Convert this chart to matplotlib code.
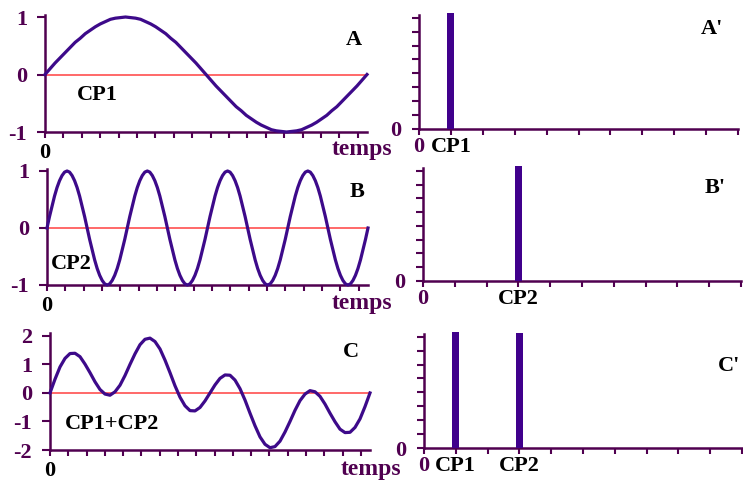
import numpy as np
import matplotlib
matplotlib.use("Agg")
from matplotlib import pyplot as plt

W, H = 743, 482
plt.rcParams['font.family'] = ['Liberation Serif', 'DejaVu Serif']
plt.rcParams['font.weight'] = 'bold'

axis_col = '#500050'
curve_col = '#3d0a8a'
bar_col = '#40008c'
zero_col = '#ff4040'

cp1 = [0, .10, .20, .29, .38, .47, .56, .63, .71, .77, .83, .88, .92, .96, .98, .99, 1.00,
       .99, .98, .96, .92, .88, .83, .77, .71, .63, .56, .47, .38, .29, .20, .10, 0,
       -.10, -.20, -.29, -.38, -.47, -.56, -.63, -.71, -.77, -.83, -.88, -.92, -.96, -.98, -.99, -1.00,
       -.99, -.98, -.96, -.92, -.88, -.83, -.77, -.71, -.63, -.56, -.47, -.38, -.29, -.20, -.10, 0]
cp2_period = [0, .20, .38, .56, .71, .83, .92, .98, 1, .98, .92, .83, .71, .56, .38, .20,
              0, -.20, -.38, -.56, -.71, -.83, -.92, -.98, -1, -.98, -.92, -.83, -.71, -.56, -.38, -.20]
cp2 = cp2_period * 4 + [0]
cp12 = [0, .48, .91, 1.21, 1.38, 1.39, 1.27, 1.01, .71, .39, .12, -.04, -.08, .04, .27, .61, 1.00,
        1.37, 1.69, 1.88, 1.92, 1.80, 1.54, 1.15, .71, .25, -.15, -.45, -.62, -.63, -.51, -.28, 0,
        .28, .51, .63, .62, .45, .15, -.25, -.71, -1.15, -1.54, -1.80, -1.92, -1.88, -1.69, -1.37, -1.00,
        -.61, -.27, -.04, .08, .04, -.12, -.39, -.71, -1.01, -1.27, -1.39, -1.38, -1.21, -.91, -.48, 0]

# spectra: component position / amplitude
spec_A = ([1], [8.35])
spec_B = ([3], [8.35])
spec_C = ([1, 3], [8.35, 8.3])
spec_labels_A = {0: '0', 1: 'CP1'}
spec_labels_B = {0: '0', 3: 'CP2'}
spec_labels_C = {0: '0', 1: 'CP1', 3: 'CP2'}

FS = 16
fig = plt.figure(figsize=(W / 100, H / 100), dpi=100)


def ax_px(x0, y0, x1, y1):
    return fig.add_axes([x0 / W, 1 - y1 / H, (x1 - x0) / W, (y1 - y0) / H])


def ftext(x, y, s, color='black', size=FS):
    fig.text(x / W, 1 - y / H, s, ha='center', va='center', color=color,
             fontsize=size, fontweight='bold')


def style(ax):
    for s in ['top', 'right']:
        ax.spines[s].set_visible(False)
    for s in ['left', 'bottom']:
        ax.spines[s].set_color(axis_col)
        ax.spines[s].set_linewidth(1.8)
    ax.tick_params(colors=axis_col, width=1.5, length=4, labelsize=FS)


def signal(ax, y, ylo, yhi, yticks):
    style(ax)
    t = np.linspace(0, 17.5, len(y))
    ax.plot(t, y, color=curve_col, lw=2.3, clip_on=False, zorder=3,
            solid_joinstyle='round')
    ax.plot([0, 17.5], [0, 0], color=zero_col, lw=1.1, zorder=2)
    ax.set_xlim(0, 17.5)
    ax.set_ylim(ylo, yhi)
    ax.set_xticks(range(18))
    ax.set_xticklabels(['0'] + [''] * 17)
    ax.tick_params(axis='x', pad=4, labelcolor='black')
    ax.tick_params(axis='y', length=6, pad=7)
    ax.set_yticks(yticks)
    ax.set_yticklabels([str(v) for v in yticks])


def spectrum(ax, spec, labels):
    style(ax)
    ax.bar(spec[0], spec[1], width=0.22, color=bar_col, clip_on=False, zorder=3)
    ax.set_xlim(0, 10)
    ax.set_ylim(0, 8.2)
    ax.set_xticks(range(11))
    ax.set_xticklabels([labels.get(i, '') for i in range(11)])
    for i, lab in enumerate(ax.get_xticklabels()):
        lab.set_color(axis_col if i == 0 else 'black')
    ax.tick_params(axis='x', pad=2)
    ax.tick_params(axis='y', length=5, pad=8)
    ax.set_yticks(range(9))
    ax.set_yticklabels(['0'] + [''] * 8)


axA = ax_px(45, 15, 367, 132)
signal(axA, cp1, -1, 1.035, [1, 0, -1])
axB = ax_px(47, 169, 368, 285)
signal(axB, cp2, -1, 1.035, [1, 0, -1])
axC = ax_px(50, 333, 370, 450)
signal(axC, cp12, -2, 2.1, [2, 1, 0, -1, -2])

axA2 = ax_px(419, 15, 738, 129)
spectrum(axA2, spec_A, spec_labels_A)
axB2 = ax_px(423, 168, 741, 281)
spectrum(axB2, spec_B, spec_labels_B)
axC2 = ax_px(424, 334, 742, 448)
spectrum(axC2, spec_C, spec_labels_C)

ftext(362, 150, 'temps', axis_col, 17)
ftext(362, 303, 'temps', axis_col, 17)
ftext(371, 469, 'temps', axis_col, 17)

ftext(354, 40, 'A')
ftext(97, 95, 'CP1')
ftext(357, 192, 'B')
ftext(71, 264, 'CP2')
ftext(351, 352, 'C')
ftext(112, 424, 'CP1+CP2')
ftext(712, 29, "A'")
ftext(715, 188, "B'")
ftext(729, 366, "C'")

fig.savefig('out.png', dpi=100)
